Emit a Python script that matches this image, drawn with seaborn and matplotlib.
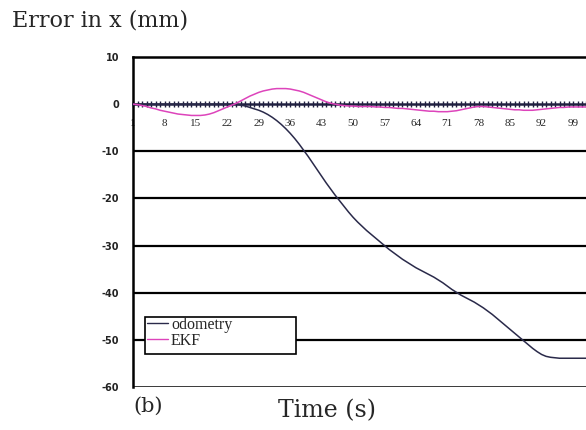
import numpy as np
import pandas as pd
import matplotlib
matplotlib.use("Agg")
import matplotlib.pyplot as plt
import seaborn as sns
from matplotlib.lines import Line2D
from matplotlib.patches import Rectangle
from matplotlib.ticker import MultipleLocator, FixedLocator

# time steps (s) and errors in x (mm)
time_s = list(range(1, 111))

odometry = (
    [0.0] * 24 +
    [-0.2, -0.4, -0.7, -1.0, -1.3, -1.7, -2.2, -2.8, -3.5, -4.3,
     -5.2, -6.2, -7.3, -8.5, -9.8, -11.1, -12.5, -13.9, -15.3, -16.7,
     -18.0, -19.3, -20.5, -21.7, -22.9, -24.0, -25.0, -25.9, -26.8, -27.6,
     -28.4, -29.2, -30.0, -30.8, -31.5, -32.2, -32.9, -33.5, -34.1, -34.7,
     -35.2, -35.7, -36.2, -36.7, -37.3, -37.9, -38.6, -39.3, -39.9, -40.5,
     -41.0, -41.5, -42.0, -42.6, -43.2, -43.9, -44.6, -45.4, -46.2, -47.0,
     -47.8, -48.6, -49.4, -50.2, -51.0, -51.8, -52.5, -53.1, -53.5, -53.7,
     -53.8, -53.9, -53.9, -53.9, -53.9, -53.9, -53.9, -53.9, -53.9, -53.9,
     -53.9, -53.9, -53.9, -53.9, -53.9, -53.9]
)

ekf = [
    0.0, -0.1, -0.3, -0.5, -0.8, -1.0, -1.3, -1.5, -1.7, -1.9,
    -2.1, -2.2, -2.3, -2.4, -2.4, -2.4, -2.3, -2.1, -1.8, -1.4,
    -1.0, -0.6, -0.2, 0.2, 0.7, 1.2, 1.7, 2.1, 2.5, 2.8,
    3.0, 3.2, 3.3, 3.3, 3.3, 3.2, 3.0, 2.8, 2.5, 2.1,
    1.7, 1.3, 0.9, 0.5, 0.2, 0.0, -0.2, -0.3, -0.4, -0.4,
    -0.5, -0.5, -0.5, -0.5, -0.6, -0.6, -0.7, -0.7, -0.8, -0.9,
    -0.9, -1.0, -1.1, -1.2, -1.3, -1.4, -1.5, -1.5, -1.6, -1.6,
    -1.6, -1.5, -1.4, -1.2, -1.0, -0.8, -0.6, -0.5, -0.5, -0.6,
    -0.7, -0.8, -0.9, -1.0, -1.1, -1.2, -1.2, -1.3, -1.3, -1.3,
    -1.2, -1.1, -1.0, -0.9, -0.8, -0.7, -0.7, -0.6, -0.6, -0.6,
    -0.6, -0.6, -0.6, -0.6, -0.6, -0.6, -0.6, -0.6, -0.6, -0.6,
]

series_names = ["odometry", "EKF"]
series_colors = ["#2a2a4a", "#dd44bb"]
y_ticks = [10, 0, -10, -20, -30, -40, -50, -60]
x_label_ticks = list(range(1, 100, 7))

df = pd.DataFrame({
    "time": time_s * 2,
    "error": odometry + ekf,
    "series": ["odometry"] * len(time_s) + ["EKF"] * len(time_s),
})

sns.set_style("white")
plt.rcParams["font.family"] = ["DejaVu Sans"]
serif = ["Liberation Serif", "DejaVu Serif"]
wide_serif = ["DejaVu Serif"]

W, H = 586, 430
fig = plt.figure(figsize=(W / 100, H / 100), dpi=100)
# axes run past the right edge of the picture, like the cropped original
ax = fig.add_axes([133 / W, 43 / H, 487 / W, 330 / H])

# black horizontal rules
for y in [-10, -20, -30, -40, -50]:
    ax.axhline(y, color="black", lw=1.6, zorder=1)
ax.axhline(-60, color="black", lw=1.8, zorder=1)

sns.lineplot(data=df, x="time", y="error", hue="series",
             hue_order=series_names, palette=series_colors,
             lw=1.1, legend=False, ax=ax, zorder=3)

ax.set_xlim(0.97, 1 + 487 / 4.49)
ax.set_ylim(-60, 10)

# category axis drawn through y = 0
ax.spines["bottom"].set_position(("data", 0))
ax.spines["bottom"].set_linewidth(1.8)
ax.spines["bottom"].set_color("#202040")
ax.spines["left"].set_linewidth(1.8)
ax.spines["left"].set_color("black")
ax.spines["top"].set_linewidth(1.8)
ax.spines["top"].set_color("black")
ax.spines["right"].set_visible(False)

ax.xaxis.set_major_locator(FixedLocator(x_label_ticks))
ax.xaxis.set_minor_locator(MultipleLocator(1))
ax.set_xticklabels([str(v) for v in x_label_ticks], fontsize=8, family=serif)
ax.tick_params(axis="x", which="both", direction="inout", length=5,
               width=1.0, color="#202040", pad=8, bottom=True)
ax.set_yticks(y_ticks)
ax.set_yticklabels([str(v) for v in y_ticks], fontsize=7, weight="bold",
                   color="#222222")
ax.tick_params(axis="y", length=0, pad=10)
ax.set_xlabel("")
ax.set_ylabel("")

# legend: white box wider than its entries, as in the original
box = Rectangle((145 / W, 1 - 354 / H), 151 / W, 37 / H,
                transform=fig.transFigure, facecolor="white",
                edgecolor="black", lw=1.2, zorder=5)
fig.add_artist(box)
handles = [Line2D([0], [0], color=c, lw=1.0) for c in series_colors]
leg = fig.legend(handles, series_names, loc="upper left",
                 bbox_to_anchor=(147 / W, 1 - 317 / H),
                 frameon=False, prop={"family": serif, "size": 11.5},
                 handlelength=1.3, handletextpad=0.2, borderpad=0.0,
                 labelspacing=0.0, borderaxespad=0)
leg.set_zorder(6)

fig.text(12 / W, 1 - 21 / H, "Error in x (mm)", family=wide_serif,
         fontsize=16, va="center", ha="left")
fig.text(327 / W, 1 - 411 / H, "Time (s)", family=wide_serif,
         fontsize=17, va="center", ha="center")
fig.text(133 / W, 1 - 406 / H, "(b)", family=wide_serif,
         fontsize=15, va="center", ha="left")

fig.savefig("out.png", dpi=100)
plt.close(fig)
